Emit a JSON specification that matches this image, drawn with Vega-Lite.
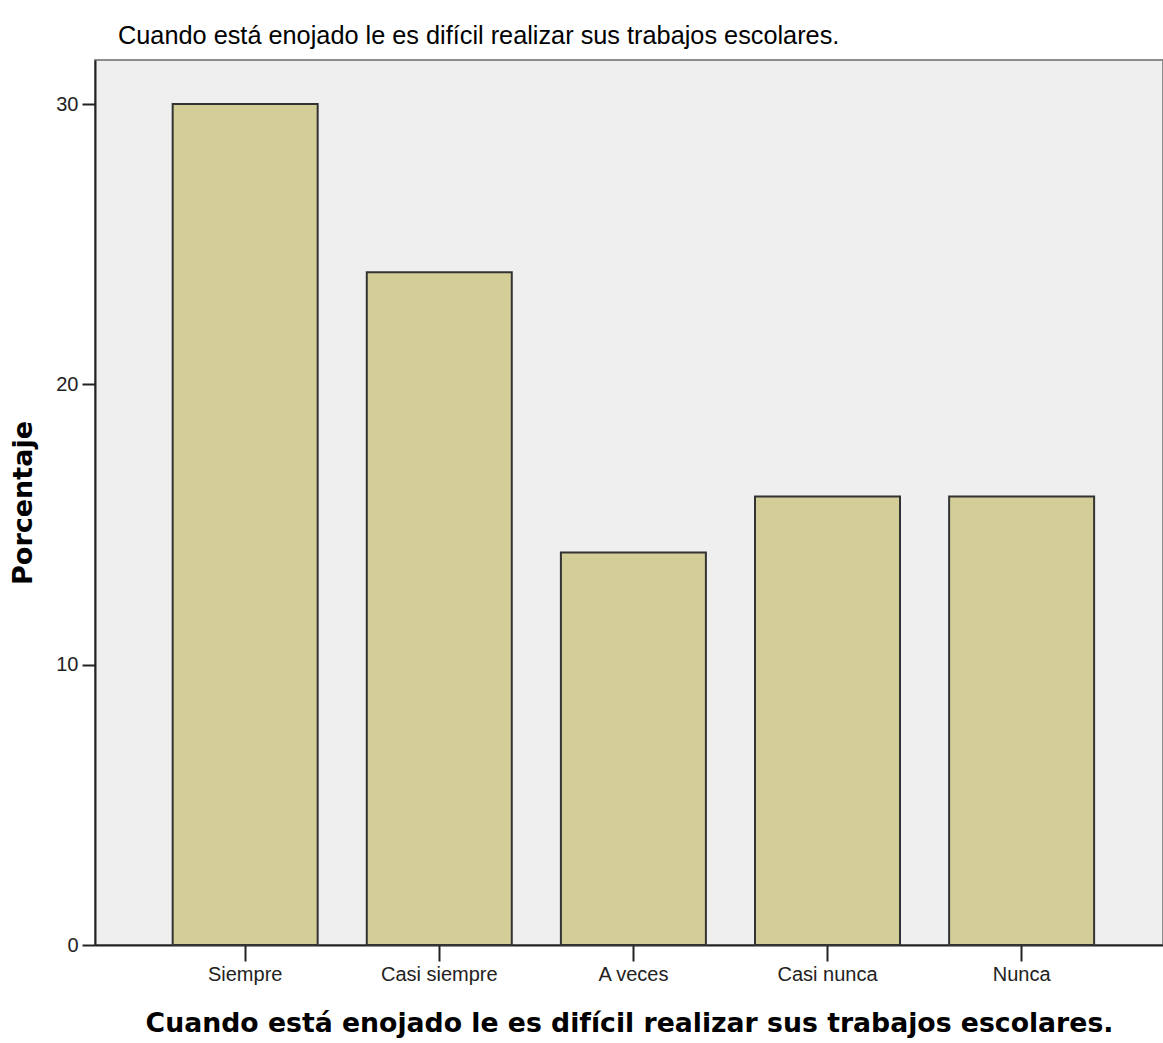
{
  "$schema": "https://vega.github.io/schema/vega-lite/v6.json",
  "autosize": "none",
  "width": 1068,
  "height": 885,
  "padding": {"left": 95, "top": 60, "right": 0, "bottom": 98},
  "background": "white",
  "title": {
    "text": "Cuando está enojado le es difícil realizar sus trabajos escolares.",
    "anchor": "start",
    "frame": "group",
    "dx": 23,
    "dy": 26,
    "font": "Liberation Sans",
    "fontSize": 25.3,
    "fontWeight": "normal",
    "color": "#000000",
    "baseline": "alphabetic",
    "offset": 17
  },
  "config": {
    "view": {"fill": "#EFEFEF", "stroke": "#8C8C8C", "strokeWidth": 2},
    "axis": {
      "labelFont": "Liberation Sans",
      "labelFontSize": 20,
      "labelColor": "#222222",
      "domainColor": "#222222",
      "domainWidth": 2,
      "tickColor": "#222222",
      "tickWidth": 2,
      "grid": false
    }
  },
  "data": {
    "values": [
      {"categoria": "Siempre", "porcentaje": 30},
      {"categoria": "Casi siempre", "porcentaje": 24},
      {"categoria": "A veces", "porcentaje": 14},
      {"categoria": "Casi nunca", "porcentaje": 16},
      {"categoria": "Nunca", "porcentaje": 16}
    ]
  },
  "mark": {"type": "bar", "color": "#D3CE97", "stroke": "#333333", "strokeWidth": 2},
  "encoding": {
    "x": {
      "field": "categoria",
      "type": "nominal",
      "sort": null,
      "scale": {"paddingInner": 0.253, "paddingOuter": 0.3775, "align": 0.53},
      "axis": {
        "labelAngle": 0,
        "tickSize": 16,
        "labelPadding": 3,
        "title": "Cuando está enojado le es difícil realizar sus trabajos escolares.",
        "titleFont": "DejaVu Sans",
        "titleFontSize": 26.7,
        "titleFontWeight": "bold",
        "titleColor": "#000000",
        "titlePadding": 26
      }
    },
    "y": {
      "field": "porcentaje",
      "type": "quantitative",
      "scale": {"domain": [0, 31.57], "nice": false},
      "axis": {
        "values": [0, 10, 20, 30],
        "tickSize": 13,
        "labelPadding": 4,
        "title": "Porcentaje",
        "titleFont": "DejaVu Sans",
        "titleFontSize": 27,
        "titleFontWeight": "bold",
        "titleColor": "#000000",
        "titlePadding": 18
      }
    }
  }
}
